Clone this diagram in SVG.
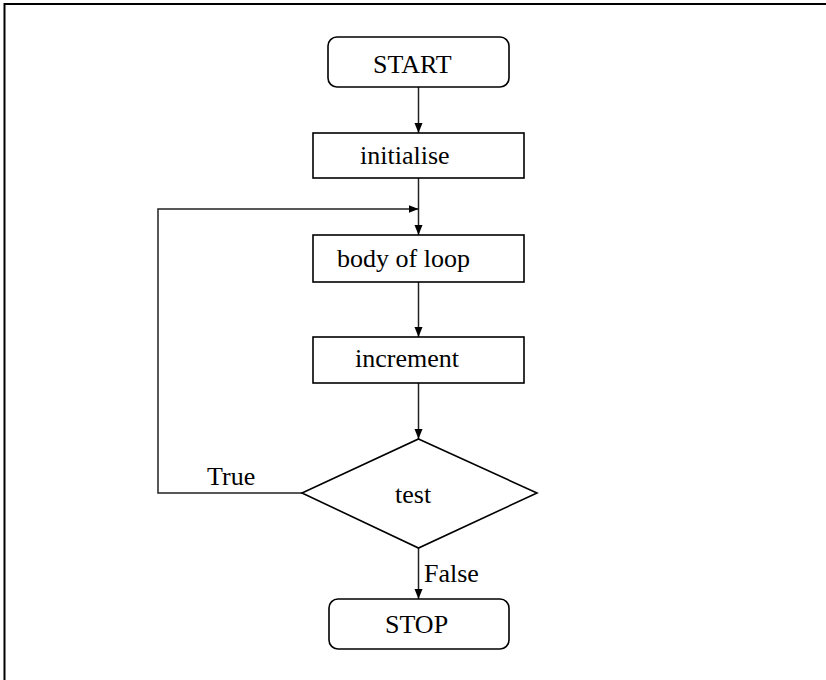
<svg xmlns="http://www.w3.org/2000/svg" width="826" height="680" viewBox="0 0 826 680">
<defs>
<style>
.box{fill:#fff;stroke:#000;stroke-width:1.6}
.ln{fill:none;stroke:#222;stroke-width:1.5}
.t{font-family:"Liberation Serif","Times New Roman",serif;font-size:26px;fill:#000}
</style>
<marker id="ah" markerWidth="10" markerHeight="10" viewBox="0 0 10 10" refX="10" refY="5" orient="auto" markerUnits="userSpaceOnUse">
<path d="M0,1 L10,5 L0,9 Z" fill="#000"/>
</marker>
</defs>
<rect width="826" height="680" fill="#fff"/>
<path d="M4.5,680 V4 H826" fill="none" stroke="#000" stroke-width="2"/>
<g id="connectors">
<line class="ln" x1="418.5" y1="87" x2="418.5" y2="133" marker-end="url(#ah)"/>
<line class="ln" x1="418.5" y1="178" x2="418.5" y2="235" marker-end="url(#ah)"/>
<polyline class="ln" points="302,493 158,493 158,209 418.5,209" marker-end="url(#ah)"/>
<line class="ln" x1="418.5" y1="282" x2="418.5" y2="337" marker-end="url(#ah)"/>
<line class="ln" x1="418.5" y1="383" x2="418.5" y2="439" marker-end="url(#ah)"/>
<line class="ln" x1="418.5" y1="548" x2="418.5" y2="599" marker-end="url(#ah)"/>
<text class="t" x="207" y="485">True</text>
<text class="t" x="424" y="582">False</text>
</g>
<g id="start">
<rect class="box" x="328" y="37" width="181" height="50" rx="9"/>
<text class="t" x="373" y="73">START</text>
</g>
<g id="initialise">
<rect class="box" x="313" y="133" width="211" height="45"/>
<text class="t" x="360" y="164">initialise</text>
</g>
<g id="body">
<rect class="box" x="313" y="235" width="211" height="47"/>
<text class="t" x="337" y="267">body of loop</text>
</g>
<g id="increment">
<rect class="box" x="313" y="337" width="211" height="46"/>
<text class="t" x="355" y="367">increment</text>
</g>
<g id="test">
<polygon class="box" points="418.5,439 537,493 418.5,548 302,493"/>
<text class="t" x="395" y="503">test</text>
</g>
<g id="stop">
<rect class="box" x="329" y="599" width="180" height="50" rx="9"/>
<text class="t" x="385" y="633">STOP</text>
</g>
</svg>
